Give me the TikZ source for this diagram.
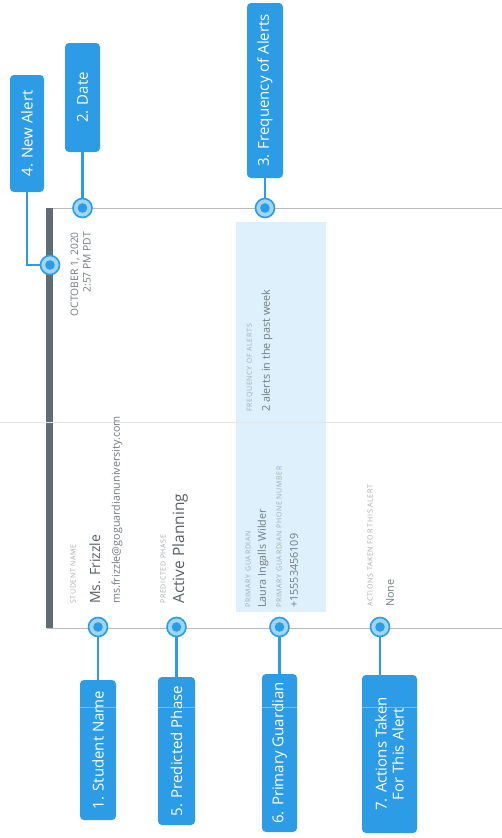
\documentclass[tikz,border=0pt]{standalone}
\usepackage{fontspec}
\setmainfont{Open Sans}
\definecolor{cblue}{HTML}{2D9CE6}
\definecolor{cring}{HTML}{9ED6F7}
\definecolor{guardbg}{HTML}{DDF0FB}
\definecolor{barcol}{HTML}{5F6C74}
\definecolor{bordercol}{HTML}{B8BCBF}
\definecolor{headcol}{HTML}{596167}
\definecolor{valcol}{HTML}{737B81}
\definecolor{tinycol}{HTML}{A3AAAF}
\begin{document}
\begin{tikzpicture}[x=1pt,y=-1pt,
  callout/.style={fill=cblue, rounded corners=4pt, text=white, rotate=90,
    font=\fontsize{15}{17}\selectfont, inner sep=0pt, align=center},
  marker/.style={circle, minimum size=19pt, inner sep=0pt, fill=cring, draw=cblue, line width=1.6pt,
    path picture={\fill[cblue] (path picture bounding box.center) circle (4.8pt);}},
  conn/.style={draw=cblue, line width=2.4pt},
  txt/.style={rotate=90, inner sep=0pt, anchor=west},
  tinylbl/.style={txt, text=tinycol, font=\fontsize{7}{8}\selectfont\addfontfeature{LetterSpace=10}},
  vallbl/.style={txt, text=valcol, font=\fontsize{10.8}{12}\selectfont},
  headlbl/.style={txt, text=headcol},
  border/.style={draw=bordercol, line width=0.9pt}
]
\useasboundingbox (0,0) rectangle (502,838);
\fill[white] (0,0) rectangle (502,838);

% card
\fill[guardbg] (236,222) rectangle (326,612);
\draw[border] (47,208) -- (502,208);
\draw[border] (47,628) -- (502,628);
\fill[barcol] (46,208) rectangle (53,628);
\draw[black!10, line width=0.6pt] (0,422) -- (502,422);

% card texts
\node[txt, anchor=east, text=valcol, font=\fontsize{10.3}{12}\selectfont] (dt1) at (75,232) {OCTOBER 1, 2020};
\node[txt, anchor=east, text=valcol, font=\fontsize{10.3}{12}\selectfont] (dt2) at (87,232) {2:57 PM PDT};

\node[tinylbl] (snl) at (73,604) {STUDENT NAME};
\node[headlbl, font=\fontsize{14}{16}\selectfont] (snv) at (95,604) {Ms. Frizzle};
\node[vallbl] (sne) at (117,604) {ms.frizzle@goguardianuniversity.com};

\node[tinylbl] (ppl) at (163,604) {PREDICTED PHASE};
\node[headlbl, font=\fontsize{15.5}{17}\selectfont] (ppv) at (180,604) {Active Planning};

\node[tinylbl] (pgl) at (248,608) {PRIMARY GUARDIAN};
\node[vallbl] (pgv) at (263,608) {Laura Ingalls Wilder};
\node[tinylbl] (pgpl) at (279,608) {PRIMARY GUARDIAN PHONE NUMBER};
\node[vallbl] (pgpv) at (294,608) {+15553456109};

\node[tinylbl] (fql) at (250,412) {FREQUENCY OF ALERTS};
\node[vallbl] (fqv) at (267,412) {2 alerts in the past week};

\node[tinylbl] (atl) at (370,607) {ACTIONS TAKEN FOR THIS ALERT};
\node[vallbl] (atv) at (390,607) {None};

% callouts
\node[callout, minimum width=117pt, minimum height=34pt] (b4) at (27,133.5) {4. New Alert};
\node[callout, minimum width=109pt, minimum height=35pt] (b2) at (82.5,97.5) {2. Date};
\node[callout, minimum width=175pt, minimum height=36pt] (b3) at (265,90.5) {3. Frequency of Alerts};
\node[callout, minimum width=140pt, minimum height=36pt] (b1) at (98,750) {1. Student Name};
\node[callout, minimum width=148pt, minimum height=37pt] (b5) at (176.5,751) {5. Predicted Phase};
\node[callout, minimum width=158pt, minimum height=35pt] (b6) at (279.5,753) {6. Primary Guardian};
\node[callout, minimum width=158pt, minimum height=55pt] (b7) at (389.5,754) {7. Actions Taken\\For This Alert};

% markers
\node[marker] (m4) at (50,265) {};
\node[marker] (m2) at (82.5,208) {};
\node[marker] (m3) at (265,208) {};
\node[marker] (m1) at (98,627) {};
\node[marker] (m5) at (176.5,627) {};
\node[marker] (m6) at (279.5,627) {};
\node[marker] (m7) at (380,627) {};

% connectors
\draw[conn] (b4.west) |- (m4);
\draw[conn] (b2.west) -- (m2);
\draw[conn] (b3.west) -- (m3);
\draw[conn] (m1) -- (b1.east);
\draw[conn] (m5) -- (b5.east);
\draw[conn] (m6) -- (b6.east);
\draw[conn] (m7) -- (m7 |- b7.east);

\draw[white, opacity=0.35, line width=0.8pt] (60,707) -- (440,707);
\end{tikzpicture}
\end{document}
